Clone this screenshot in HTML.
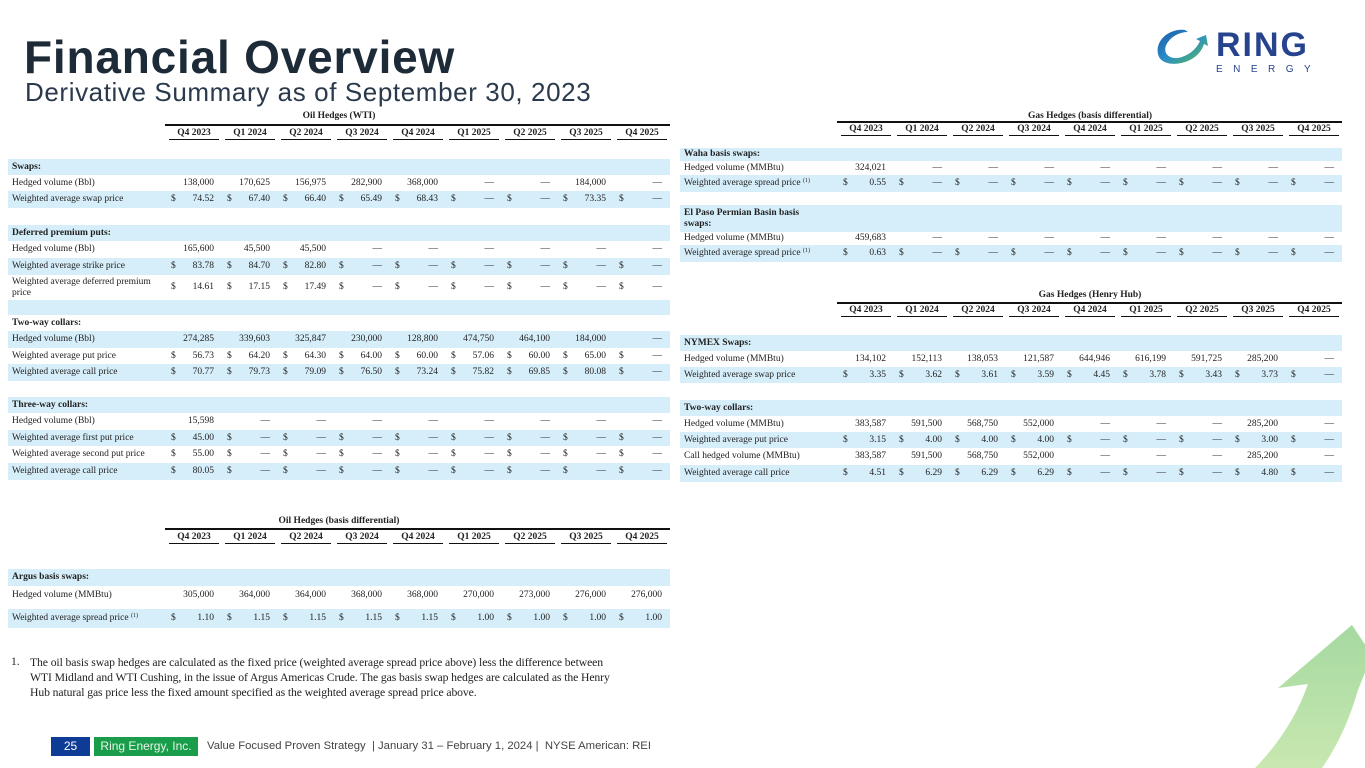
<!DOCTYPE html>
<html><head><meta charset="utf-8"><style>
*{margin:0;padding:0;box-sizing:border-box}
body{width:1365px;height:768px;overflow:hidden;background:#fff;position:relative;font-family:"Liberation Serif",serif;color:#222}
.a{position:absolute}
.r{position:absolute;display:flex;align-items:center;font-size:9.5px;line-height:11px}
.b{background:#d6eefa}
.l{width:158px;padding-left:4px;flex:none}
.c{width:56px;flex:none;display:flex;justify-content:space-between;padding:0 8px 0 5px}
.c s{text-decoration:none}
.h{font-weight:bold}
.hd{position:absolute;display:flex;font-size:9.5px;font-weight:bold}
.hd div{width:50px;margin:0 3px;text-align:center;border-bottom:1.5px solid #111;padding-bottom:1px}
.tl{position:absolute;height:1.5px;background:#111}
.tt{position:absolute;font-size:9.5px;font-weight:bold;text-align:center}
sup{font-size:6px;vertical-align:3px;line-height:0}
</style></head><body>

<div class="a" style="left:24px;top:30px;font:bold 46px 'Liberation Sans',sans-serif;color:#1d2b38;letter-spacing:0.8px;white-space:nowrap">Financial Overview</div>
<div class="a" style="left:25px;top:77px;font:26px 'Liberation Sans',sans-serif;color:#2a3a4c;letter-spacing:0.6px;white-space:nowrap">Derivative Summary as of September 30, 2023</div>

<svg class="a" style="left:1150px;top:22px" width="170" height="52" viewBox="0 0 170 52">
<defs><linearGradient id="g1" x1="0" y1="0" x2="1" y2="1"><stop offset="0" stop-color="#1e5aa8"/><stop offset="0.5" stop-color="#2a8ec8"/><stop offset="1" stop-color="#5cc04a"/></linearGradient></defs>
<path d="M35,8 C20,6 5,18 8,32 C10,42 25,45 40,38 C48,34 52,28 54,22 L58,24 L56,13 L46,17 L50,19 C46,28 38,34 28,36 C16,37 12,28 18,20 C22,14 30,10 38,10 Z" fill="url(#g1)"/>
<text x="66" y="34" font-family="Liberation Sans,sans-serif" font-weight="bold" font-size="34" fill="#27438e" letter-spacing="2">RING</text>
<text x="66" y="50" font-family="Liberation Sans,sans-serif" font-size="10" fill="#27438e" letter-spacing="10.5">ENERGY</text>
</svg>

<svg class="a" style="left:0;top:0" width="1365" height="768">
<defs><linearGradient id="g2" x1="0" y1="0" x2="0" y2="1"><stop offset="0" stop-color="#a5d9a0"/><stop offset="1" stop-color="#c8e8b0"/></linearGradient></defs>
<path d="M1278,688 L1352,625 L1372,655 L1358,690 Q1345,735 1322,768 L1255,768 Q1292,730 1308,684 Z" fill="url(#g2)"/>
</svg>

<!-- OIL WTI -->
<div class="tt" style="left:8px;width:662px;top:111px">Oil Hedges (WTI)</div>
<div class="tl" style="left:165px;width:505px;top:124px"></div>
<div class="hd" style="left:166px;top:128px"><div>Q4 2023</div><div>Q1 2024</div><div>Q2 2024</div><div>Q3 2024</div><div>Q4 2024</div><div>Q1 2025</div><div>Q2 2025</div><div>Q3 2025</div><div>Q4 2025</div></div>

<div class="r b" style="left:8px;width:662px;top:159px;height:16px"><div class="l h">Swaps:</div></div>
<div class="r" style="left:8px;width:662px;top:175px;height:16px"><div class="l">Hedged volume (Bbl)</div><div class="c"><s></s>138,000</div><div class="c"><s></s>170,625</div><div class="c"><s></s>156,975</div><div class="c"><s></s>282,900</div><div class="c"><s></s>368,000</div><div class="c"><s></s>—</div><div class="c"><s></s>—</div><div class="c"><s></s>184,000</div><div class="c"><s></s>—</div></div>
<div class="r b" style="left:8px;width:662px;top:191px;height:17px"><div class="l">Weighted average swap price</div><div class="c"><s>$</s>74.52</div><div class="c"><s>$</s>67.40</div><div class="c"><s>$</s>66.40</div><div class="c"><s>$</s>65.49</div><div class="c"><s>$</s>68.43</div><div class="c"><s>$</s>—</div><div class="c"><s>$</s>—</div><div class="c"><s>$</s>73.35</div><div class="c"><s>$</s>—</div></div>

<div class="r b" style="left:8px;width:662px;top:225px;height:16px"><div class="l h">Deferred premium puts:</div></div>
<div class="r" style="left:8px;width:662px;top:241px;height:17px"><div class="l">Hedged volume (Bbl)</div><div class="c"><s></s>165,600</div><div class="c"><s></s>45,500</div><div class="c"><s></s>45,500</div><div class="c"><s></s>—</div><div class="c"><s></s>—</div><div class="c"><s></s>—</div><div class="c"><s></s>—</div><div class="c"><s></s>—</div><div class="c"><s></s>—</div></div>
<div class="r b" style="left:8px;width:662px;top:258px;height:17px"><div class="l">Weighted average strike price</div><div class="c"><s>$</s>83.78</div><div class="c"><s>$</s>84.70</div><div class="c"><s>$</s>82.80</div><div class="c"><s>$</s>—</div><div class="c"><s>$</s>—</div><div class="c"><s>$</s>—</div><div class="c"><s>$</s>—</div><div class="c"><s>$</s>—</div><div class="c"><s>$</s>—</div></div>
<div class="r" style="left:8px;width:662px;top:275px;height:25px"><div class="l">Weighted average deferred premium price</div><div class="c"><s>$</s>14.61</div><div class="c"><s>$</s>17.15</div><div class="c"><s>$</s>17.49</div><div class="c"><s>$</s>—</div><div class="c"><s>$</s>—</div><div class="c"><s>$</s>—</div><div class="c"><s>$</s>—</div><div class="c"><s>$</s>—</div><div class="c"><s>$</s>—</div></div>
<div class="r b" style="left:8px;width:662px;top:300px;height:15px"></div>

<div class="r" style="left:8px;width:662px;top:315px;height:16px"><div class="l h">Two-way collars:</div></div>
<div class="r b" style="left:8px;width:662px;top:331px;height:17px"><div class="l">Hedged volume (Bbl)</div><div class="c"><s></s>274,285</div><div class="c"><s></s>339,603</div><div class="c"><s></s>325,847</div><div class="c"><s></s>230,000</div><div class="c"><s></s>128,800</div><div class="c"><s></s>474,750</div><div class="c"><s></s>464,100</div><div class="c"><s></s>184,000</div><div class="c"><s></s>—</div></div>
<div class="r" style="left:8px;width:662px;top:348px;height:16px"><div class="l">Weighted average put price</div><div class="c"><s>$</s>56.73</div><div class="c"><s>$</s>64.20</div><div class="c"><s>$</s>64.30</div><div class="c"><s>$</s>64.00</div><div class="c"><s>$</s>60.00</div><div class="c"><s>$</s>57.06</div><div class="c"><s>$</s>60.00</div><div class="c"><s>$</s>65.00</div><div class="c"><s>$</s>—</div></div>
<div class="r b" style="left:8px;width:662px;top:364px;height:17px"><div class="l">Weighted average call price</div><div class="c"><s>$</s>70.77</div><div class="c"><s>$</s>79.73</div><div class="c"><s>$</s>79.09</div><div class="c"><s>$</s>76.50</div><div class="c"><s>$</s>73.24</div><div class="c"><s>$</s>75.82</div><div class="c"><s>$</s>69.85</div><div class="c"><s>$</s>80.08</div><div class="c"><s>$</s>—</div></div>

<div class="r b" style="left:8px;width:662px;top:397px;height:16px"><div class="l h">Three-way collars:</div></div>
<div class="r" style="left:8px;width:662px;top:413px;height:17px"><div class="l">Hedged volume (Bbl)</div><div class="c"><s></s>15,598</div><div class="c"><s></s>—</div><div class="c"><s></s>—</div><div class="c"><s></s>—</div><div class="c"><s></s>—</div><div class="c"><s></s>—</div><div class="c"><s></s>—</div><div class="c"><s></s>—</div><div class="c"><s></s>—</div></div>
<div class="r b" style="left:8px;width:662px;top:430px;height:16px"><div class="l">Weighted average first put price</div><div class="c"><s>$</s>45.00</div><div class="c"><s>$</s>—</div><div class="c"><s>$</s>—</div><div class="c"><s>$</s>—</div><div class="c"><s>$</s>—</div><div class="c"><s>$</s>—</div><div class="c"><s>$</s>—</div><div class="c"><s>$</s>—</div><div class="c"><s>$</s>—</div></div>
<div class="r" style="left:8px;width:662px;top:446px;height:17px"><div class="l">Weighted average second put price</div><div class="c"><s>$</s>55.00</div><div class="c"><s>$</s>—</div><div class="c"><s>$</s>—</div><div class="c"><s>$</s>—</div><div class="c"><s>$</s>—</div><div class="c"><s>$</s>—</div><div class="c"><s>$</s>—</div><div class="c"><s>$</s>—</div><div class="c"><s>$</s>—</div></div>
<div class="r b" style="left:8px;width:662px;top:463px;height:17px"><div class="l">Weighted average call price</div><div class="c"><s>$</s>80.05</div><div class="c"><s>$</s>—</div><div class="c"><s>$</s>—</div><div class="c"><s>$</s>—</div><div class="c"><s>$</s>—</div><div class="c"><s>$</s>—</div><div class="c"><s>$</s>—</div><div class="c"><s>$</s>—</div><div class="c"><s>$</s>—</div></div>

<!-- OIL BASIS -->
<div class="tt" style="left:8px;width:662px;top:516px">Oil Hedges (basis differential)</div>
<div class="tl" style="left:165px;width:505px;top:528px"></div>
<div class="hd" style="left:166px;top:532px"><div>Q4 2023</div><div>Q1 2024</div><div>Q2 2024</div><div>Q3 2024</div><div>Q4 2024</div><div>Q1 2025</div><div>Q2 2025</div><div>Q3 2025</div><div>Q4 2025</div></div>
<div class="r b" style="left:8px;width:662px;top:569px;height:17px"><div class="l h">Argus basis swaps:</div></div>
<div class="r" style="left:8px;width:662px;top:586px;height:18px"><div class="l">Hedged volume (MMBtu)</div><div class="c"><s></s>305,000</div><div class="c"><s></s>364,000</div><div class="c"><s></s>364,000</div><div class="c"><s></s>368,000</div><div class="c"><s></s>368,000</div><div class="c"><s></s>270,000</div><div class="c"><s></s>273,000</div><div class="c"><s></s>276,000</div><div class="c"><s></s>276,000</div></div>
<div class="r b" style="left:8px;width:662px;top:609px;height:19px"><div class="l">Weighted average spread price <sup>(1)</sup></div><div class="c"><s>$</s>1.10</div><div class="c"><s>$</s>1.15</div><div class="c"><s>$</s>1.15</div><div class="c"><s>$</s>1.15</div><div class="c"><s>$</s>1.15</div><div class="c"><s>$</s>1.00</div><div class="c"><s>$</s>1.00</div><div class="c"><s>$</s>1.00</div><div class="c"><s>$</s>1.00</div></div>

<!-- GAS BASIS -->
<div class="tt" style="left:838px;width:504px;top:111px">Gas Hedges (basis differential)</div>
<div class="tl" style="left:837px;width:505px;top:121px"></div>
<div class="hd" style="left:838px;top:124px"><div>Q4 2023</div><div>Q1 2024</div><div>Q2 2024</div><div>Q3 2024</div><div>Q4 2024</div><div>Q1 2025</div><div>Q2 2025</div><div>Q3 2025</div><div>Q4 2025</div></div>
<div class="r b" style="left:680px;width:662px;top:148px;height:13px"><div class="l h">Waha basis swaps:</div></div>
<div class="r" style="left:680px;width:662px;top:161px;height:14px"><div class="l">Hedged volume (MMBtu)</div><div class="c"><s></s>324,021</div><div class="c"><s></s>—</div><div class="c"><s></s>—</div><div class="c"><s></s>—</div><div class="c"><s></s>—</div><div class="c"><s></s>—</div><div class="c"><s></s>—</div><div class="c"><s></s>—</div><div class="c"><s></s>—</div></div>
<div class="r b" style="left:680px;width:662px;top:175px;height:17px"><div class="l">Weighted average spread price <sup>(1)</sup></div><div class="c"><s>$</s>0.55</div><div class="c"><s>$</s>—</div><div class="c"><s>$</s>—</div><div class="c"><s>$</s>—</div><div class="c"><s>$</s>—</div><div class="c"><s>$</s>—</div><div class="c"><s>$</s>—</div><div class="c"><s>$</s>—</div><div class="c"><s>$</s>—</div></div>
<div class="r b" style="left:680px;width:662px;top:205px;height:27px"><div class="l h" style="width:140px">El Paso Permian Basin basis swaps:</div></div>
<div class="r" style="left:680px;width:662px;top:232px;height:13px"><div class="l">Hedged volume (MMBtu)</div><div class="c"><s></s>459,683</div><div class="c"><s></s>—</div><div class="c"><s></s>—</div><div class="c"><s></s>—</div><div class="c"><s></s>—</div><div class="c"><s></s>—</div><div class="c"><s></s>—</div><div class="c"><s></s>—</div><div class="c"><s></s>—</div></div>
<div class="r b" style="left:680px;width:662px;top:245px;height:17px"><div class="l">Weighted average spread price <sup>(1)</sup></div><div class="c"><s>$</s>0.63</div><div class="c"><s>$</s>—</div><div class="c"><s>$</s>—</div><div class="c"><s>$</s>—</div><div class="c"><s>$</s>—</div><div class="c"><s>$</s>—</div><div class="c"><s>$</s>—</div><div class="c"><s>$</s>—</div><div class="c"><s>$</s>—</div></div>

<!-- GAS HENRY HUB -->
<div class="tt" style="left:838px;width:504px;top:290px">Gas Hedges (Henry Hub)</div>
<div class="tl" style="left:837px;width:505px;top:302px"></div>
<div class="hd" style="left:838px;top:305px"><div>Q4 2023</div><div>Q1 2024</div><div>Q2 2024</div><div>Q3 2024</div><div>Q4 2024</div><div>Q1 2025</div><div>Q2 2025</div><div>Q3 2025</div><div>Q4 2025</div></div>
<div class="r b" style="left:680px;width:662px;top:335px;height:16px"><div class="l h">NYMEX Swaps:</div></div>
<div class="r" style="left:680px;width:662px;top:351px;height:16px"><div class="l">Hedged volume (MMBtu)</div><div class="c"><s></s>134,102</div><div class="c"><s></s>152,113</div><div class="c"><s></s>138,053</div><div class="c"><s></s>121,587</div><div class="c"><s></s>644,946</div><div class="c"><s></s>616,199</div><div class="c"><s></s>591,725</div><div class="c"><s></s>285,200</div><div class="c"><s></s>—</div></div>
<div class="r b" style="left:680px;width:662px;top:367px;height:16px"><div class="l">Weighted average swap price</div><div class="c"><s>$</s>3.35</div><div class="c"><s>$</s>3.62</div><div class="c"><s>$</s>3.61</div><div class="c"><s>$</s>3.59</div><div class="c"><s>$</s>4.45</div><div class="c"><s>$</s>3.78</div><div class="c"><s>$</s>3.43</div><div class="c"><s>$</s>3.73</div><div class="c"><s>$</s>—</div></div>
<div class="r b" style="left:680px;width:662px;top:400px;height:16px"><div class="l h">Two-way collars:</div></div>
<div class="r" style="left:680px;width:662px;top:416px;height:16px"><div class="l">Hedged volume (MMBtu)</div><div class="c"><s></s>383,587</div><div class="c"><s></s>591,500</div><div class="c"><s></s>568,750</div><div class="c"><s></s>552,000</div><div class="c"><s></s>—</div><div class="c"><s></s>—</div><div class="c"><s></s>—</div><div class="c"><s></s>285,200</div><div class="c"><s></s>—</div></div>
<div class="r b" style="left:680px;width:662px;top:432px;height:16px"><div class="l">Weighted average put price</div><div class="c"><s>$</s>3.15</div><div class="c"><s>$</s>4.00</div><div class="c"><s>$</s>4.00</div><div class="c"><s>$</s>4.00</div><div class="c"><s>$</s>—</div><div class="c"><s>$</s>—</div><div class="c"><s>$</s>—</div><div class="c"><s>$</s>3.00</div><div class="c"><s>$</s>—</div></div>
<div class="r" style="left:680px;width:662px;top:448px;height:17px"><div class="l">Call hedged volume (MMBtu)</div><div class="c"><s></s>383,587</div><div class="c"><s></s>591,500</div><div class="c"><s></s>568,750</div><div class="c"><s></s>552,000</div><div class="c"><s></s>—</div><div class="c"><s></s>—</div><div class="c"><s></s>—</div><div class="c"><s></s>285,200</div><div class="c"><s></s>—</div></div>
<div class="r b" style="left:680px;width:662px;top:465px;height:17px"><div class="l">Weighted average call price</div><div class="c"><s>$</s>4.51</div><div class="c"><s>$</s>6.29</div><div class="c"><s>$</s>6.29</div><div class="c"><s>$</s>6.29</div><div class="c"><s>$</s>—</div><div class="c"><s>$</s>—</div><div class="c"><s>$</s>—</div><div class="c"><s>$</s>4.80</div><div class="c"><s>$</s>—</div></div>

<!-- footnote -->
<div class="a" style="left:11px;top:655px;font-size:11.5px;line-height:15px">1.</div>
<div class="a" style="left:30px;top:655px;font-size:11.7px;line-height:15px;white-space:nowrap;letter-spacing:-0.1px">The oil basis swap hedges are calculated as the fixed price (weighted average spread price above) less the difference between<br>WTI Midland and WTI Cushing, in the issue of Argus Americas Crude. The gas basis swap hedges are calculated as the Henry<br>Hub natural gas price less the fixed amount specified as the weighted average spread price above.</div>

<!-- footer -->
<div class="a" style="left:51px;top:737px;width:39px;height:19px;background:#0d3b96;color:#fff;font:12px 'Liberation Sans',sans-serif;text-align:center;line-height:19px">25</div>
<div class="a" style="left:94px;top:737px;width:104px;height:19px;background:#1a9d4b;color:#e8f5e8;font:12px 'Liberation Sans',sans-serif;text-align:center;line-height:19px">Ring Energy, Inc.</div>
<div class="a" style="left:207px;top:737px;height:19px;color:#444;font:11.3px 'Liberation Sans',sans-serif;line-height:19px;white-space:nowrap">Value Focused Proven Strategy &nbsp;| January 31 – February 1, 2024 | &nbsp;NYSE American: REI</div>
</body></html>
